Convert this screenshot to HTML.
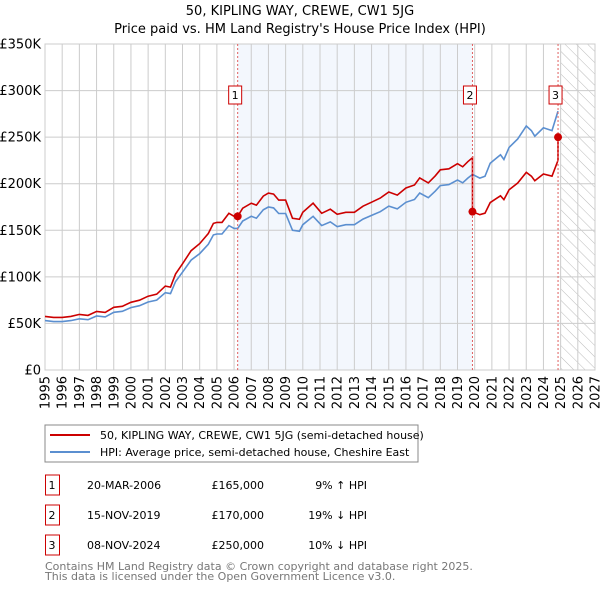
<!DOCTYPE html>
<html><head><meta charset="utf-8"><style>
body{margin:0;background:#fff;font-family:"DejaVu Sans","Liberation Sans",sans-serif;}
svg text{font-family:"DejaVu Sans","Liberation Sans",sans-serif;}
</style></head><body>
<svg id="c" width="600" height="590" viewBox="0 0 600 590" xmlns="http://www.w3.org/2000/svg">
<defs><pattern id="hatch" width="8" height="8" patternUnits="userSpaceOnUse" patternTransform="rotate(-45)"><line x1="0" y1="0" x2="0" y2="8" stroke="#bbb" stroke-width="1"/></pattern></defs>
<text x="300" y="15" text-anchor="middle" font-size="13" fill="#000">50, KIPLING WAY, CREWE, CW1 5JG</text>
<text x="300" y="33" text-anchor="middle" font-size="13" fill="#000">Price paid vs. HM Land Registry's House Price Index (HPI)</text>
<g id="plot"></g>
<g>
<rect x="45" y="425" width="373" height="37" fill="#fff" stroke="#888"/>
<line x1="50" y1="435" x2="90" y2="435" stroke="#cc0000" stroke-width="2"/>
<text x="100" y="439" font-size="11">50, KIPLING WAY, CREWE, CW1 5JG (semi-detached house)</text>
<line x1="50" y1="452" x2="90" y2="452" stroke="#5b8fd0" stroke-width="2"/>
<text x="100" y="456" font-size="11">HPI: Average price, semi-detached house, Cheshire East</text>
</g>
<g id="table" font-size="11"></g>
<text x="45" y="570" font-size="11" fill="#777">Contains HM Land Registry data © Crown copyright and database right 2025.</text>
<text x="45" y="580" font-size="11" fill="#777">This data is licensed under the Open Government Licence v3.0.</text>
</svg>
<script>
const hpiYears=[1995,1995.5,1996,1996.5,1997,1997.5,1998,1998.5,1999,1999.5,2000,2000.5,2001,2001.5,2002,2002.3,2002.6,2003,2003.5,2004,2004.5,2004.8,2005,2005.3,2005.7,2006,2006.21,2006.5,2007,2007.3,2007.7,2008,2008.3,2008.6,2009,2009.4,2009.8,2010,2010.6,2011.1,2011.6,2012,2012.5,2013,2013.5,2014,2014.5,2015,2015.5,2016,2016.5,2016.8,2017.3,2017.7,2018,2018.5,2019,2019.3,2019.6,2019.87,2020.3,2020.6,2020.9,2021.3,2021.5,2021.7,2022,2022.5,2023,2023.3,2023.5,2024,2024.5,2024.85];
const hpiValues=[53,52,52,53,55,54,58,57,62,63,67,69,73,75,83,82,95,105,118,125,135,145,146,146,155,152,152,160,165,163,172,175,174,168,168,150,149,156,165,155,159,154,156,156,162,166,170,176,173,180,183,190,185,192,198,199,204,201,206,210,206,208,222,228,231,226,239,248,262,257,251,260,257,278];
const saleYears=[2006.21,2019.87,2024.85];
const salePrices=[165,170,250];
const saleLabels=["1","2","3"];
const saleDates=["20-MAR-2006","15-NOV-2019","08-NOV-2024"];
const salePriceText=["£165,000","£170,000","£250,000"];
const saleDiff=["9% ↑ HPI","19% ↓ HPI","10% ↓ HPI"];
const yTicks=[0,50,100,150,200,250,300,350];
const yTickLabels=["£0","£50K","£100K","£150K","£200K","£250K","£300K","£350K"];
const xTicks=[1995,1996,1997,1998,1999,2000,2001,2002,2003,2004,2005,2006,2007,2008,2009,2010,2011,2012,2013,2014,2015,2016,2017,2018,2019,2020,2021,2022,2023,2024,2025,2026,2027];

const NS="http://www.w3.org/2000/svg";
const L=45,R=595,T=44,B=370;
const x=y=>L+(y-1995)/(2027-1995)*(R-L);
const yv=v=>B-v/350*(B-T);
const g=document.getElementById('plot');
function mk(tag,attrs,parent){const e=document.createElementNS(NS,tag);for(const k in attrs)e.setAttribute(k,attrs[k]);(parent||g).appendChild(e);return e;}
function hpiAt(t){for(let i=0;i<hpiYears.length-1;i++){if(t<=hpiYears[i+1]){const f=(t-hpiYears[i])/(hpiYears[i+1]-hpiYears[i]);return hpiValues[i]+f*(hpiValues[i+1]-hpiValues[i]);}}return hpiValues[hpiValues.length-1];}

let e=mk('rect',{x:x(saleYears[0]),y:T,width:x(saleYears[1])-x(saleYears[0]),height:B-T,fill:'#eef3fc',opacity:0.7});


e=mk('rect',{x:x(2025),y:T,width:R-x(2025),height:B-T,fill:'url(#hatch)'});


xTicks.forEach(t=>{
  const l=mk('line',{x1:x(t),x2:x(t),y1:T,y2:B,stroke:'#ccc','stroke-width':1});
  
  
  const tx=mk('text',{x:0,y:0,'font-size':13,'text-anchor':'end',transform:`translate(${x(t)+4.5},${B+6}) rotate(-90)`});
  tx.textContent=t;
  
  
});
yTicks.forEach((v,i)=>{
  const l=mk('line',{x1:L,x2:R,y1:yv(v),y2:yv(v),stroke:'#ccc','stroke-width':1});
  
  
  const tx=mk('text',{x:L-4,y:yv(v)+4.5,'font-size':13,'text-anchor':'end'});
  tx.textContent=yTickLabels[i];
  
  
});
e=mk('rect',{x:L,y:T,width:R-L,height:B-T,fill:'none',stroke:'#ccc'});


let d=hpiYears.map((t,i)=>(i?'L':'M')+x(t).toFixed(1)+','+yv(hpiValues[i]).toFixed(1)).join('');
e=mk('path',{d:d,fill:'none',stroke:'#5b8fd0','stroke-width':1.6});


const ratios=saleYears.map((s,i)=>salePrices[i]/hpiAt(s));
let pts=[];
hpiYears.forEach((t,i)=>{let k=0;for(let j=0;j<saleYears.length;j++)if(t>=saleYears[j]-1e-6)k=j;
  if(t>=saleYears[1]-1e-6&&t<saleYears[1]+1e-6){pts.push([t,hpiValues[i]*ratios[0]]);}
  if(t>=saleYears[2]-1e-6){pts.push([t,hpiValues[i]*ratios[1]]);}
  pts.push([t,hpiValues[i]*ratios[k]]);});
d=pts.map((p,i)=>(i?'L':'M')+x(p[0]).toFixed(1)+','+yv(p[1]).toFixed(1)).join('');
e=mk('path',{d:d,fill:'none',stroke:'#cc0000','stroke-width':1.6});


saleYears.forEach((s,i)=>{
  const l=mk('line',{x1:x(s),x2:x(s),y1:T,y2:B,stroke:'#e06060','stroke-width':1,'stroke-dasharray':'2,2'});
  
  
  const c=mk('circle',{cx:x(s),cy:yv(salePrices[i]),r:4,fill:'#cc0000'});
  
  
  const r=mk('rect',{x:x(s)-9,y:86,width:13,height:18,fill:'#fff',stroke:'#cc0000'});
  
  
  const t=mk('text',{x:x(s)-2.5,y:99,'font-size':11,'text-anchor':'middle'});
  t.textContent=saleLabels[i];
  
  
});
const tb=document.getElementById('table');
saleYears.forEach((s,i)=>{
  const y0=475+i*30;
  const r=mk('rect',{x:45.5,y:y0,width:14,height:20,fill:'#fff',stroke:'#cc0000'},tb);
  
  
  const cols=[[52,saleLabels[i],'middle'],[87,saleDates[i],'start'],[264,salePriceText[i],'end'],[367,saleDiff[i],'end']];
  cols.forEach(([cx,txt,a],j)=>{const t=mk('text',{x:cx,y:y0+14,'text-anchor':a},tb);t.textContent=txt;
    
    });
});
</script>
</body></html>
